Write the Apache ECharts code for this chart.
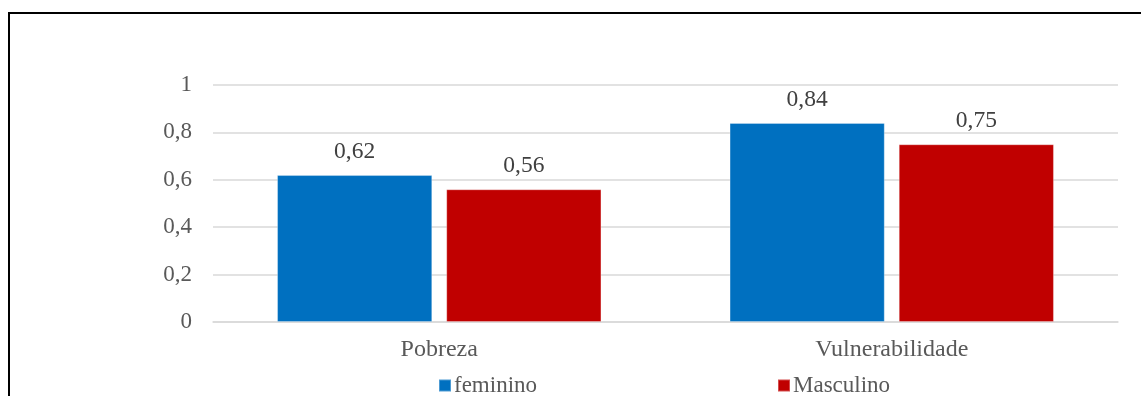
<!DOCTYPE html>
<html>
<head>
<meta charset="utf-8">
<script src="https://cdn.jsdelivr.net/npm/echarts@6/dist/echarts.min.js"></script>
<style>
html,body{margin:0;padding:0;background:#fff;}
#chart{width:1141px;height:396px;}
</style>
</head>
<body>
<div id="chart"></div>
<script>
const categories = ['Pobreza', 'Vulnerabilidade'];
const feminino = [0.62, 0.84];
const masculino = [0.56, 0.75];
const seriesNames = ['feminino', 'Masculino'];
const yTicks = { min: 0, max: 1, interval: 0.2 };

const FONT = '"Liberation Serif", "Times New Roman", serif';
const fmt = v => String(Number(v.toFixed(2))).replace('.', ',');

const chart = echarts.init(document.getElementById('chart'), null, { renderer: 'canvas' });
chart.setOption({
  animation: false,
  backgroundColor: '#ffffff',
  textStyle: { fontFamily: FONT },
  graphic: [{
    type: 'rect',
    shape: { x: 9, y: 13, width: 1160, height: 420 },
    style: { fill: 'none', stroke: '#000000', lineWidth: 2 },
    silent: true
  }],
  grid: { left: 213, right: 23, top: 85, bottom: 74, containLabel: false },
  legend: [{
    data: [seriesNames[0]],
    left: 438, top: 374, padding: 0,
    itemWidth: 12, itemHeight: 12, itemGap: 5,
    icon: 'rect',
    textStyle: { fontFamily: FONT, fontSize: 23, color: '#595959', padding: [0, 0, 0, -2] }
  }, {
    data: [seriesNames[1]],
    left: 777, top: 374, padding: 0,
    itemWidth: 12, itemHeight: 12, itemGap: 5,
    icon: 'rect',
    textStyle: { fontFamily: FONT, fontSize: 23, color: '#595959', padding: [0, 0, 0, -2] }
  }],
  xAxis: {
    type: 'category',
    data: categories,
    axisTick: { show: false },
    axisLine: { lineStyle: { color: '#d9d9d9', width: 1.5 } },
    axisLabel: { fontFamily: FONT, fontSize: 24, color: '#595959', margin: 16 }
  },
  yAxis: {
    type: 'value',
    min: yTicks.min, max: yTicks.max, interval: yTicks.interval,
    axisLine: { show: false },
    axisTick: { show: false },
    splitLine: { lineStyle: { color: '#d9d9d9', width: 1.5 } },
    axisLabel: { fontFamily: FONT, fontSize: 23, color: '#595959', margin: 21, formatter: fmt }
  },
  series: [{
    name: seriesNames[0],
    type: 'bar',
    data: feminino,
    barWidth: '34.3%',
    barGap: '9%',
    itemStyle: { color: '#0070C0', borderColor: 'rgba(255,255,255,0.3)', borderWidth: 1 },
    label: { show: true, position: 'top', distance: 11, fontFamily: FONT, fontSize: 23.5, color: '#404040', formatter: p => fmt(p.value) }
  }, {
    name: seriesNames[1],
    type: 'bar',
    data: masculino,
    barWidth: '34.3%',
    itemStyle: { color: '#C00000', borderColor: 'rgba(255,255,255,0.3)', borderWidth: 1 },
    label: { show: true, position: 'top', distance: 11, fontFamily: FONT, fontSize: 23.5, color: '#404040', formatter: p => fmt(p.value) }
  }]
});
</script>
</body>
</html>
